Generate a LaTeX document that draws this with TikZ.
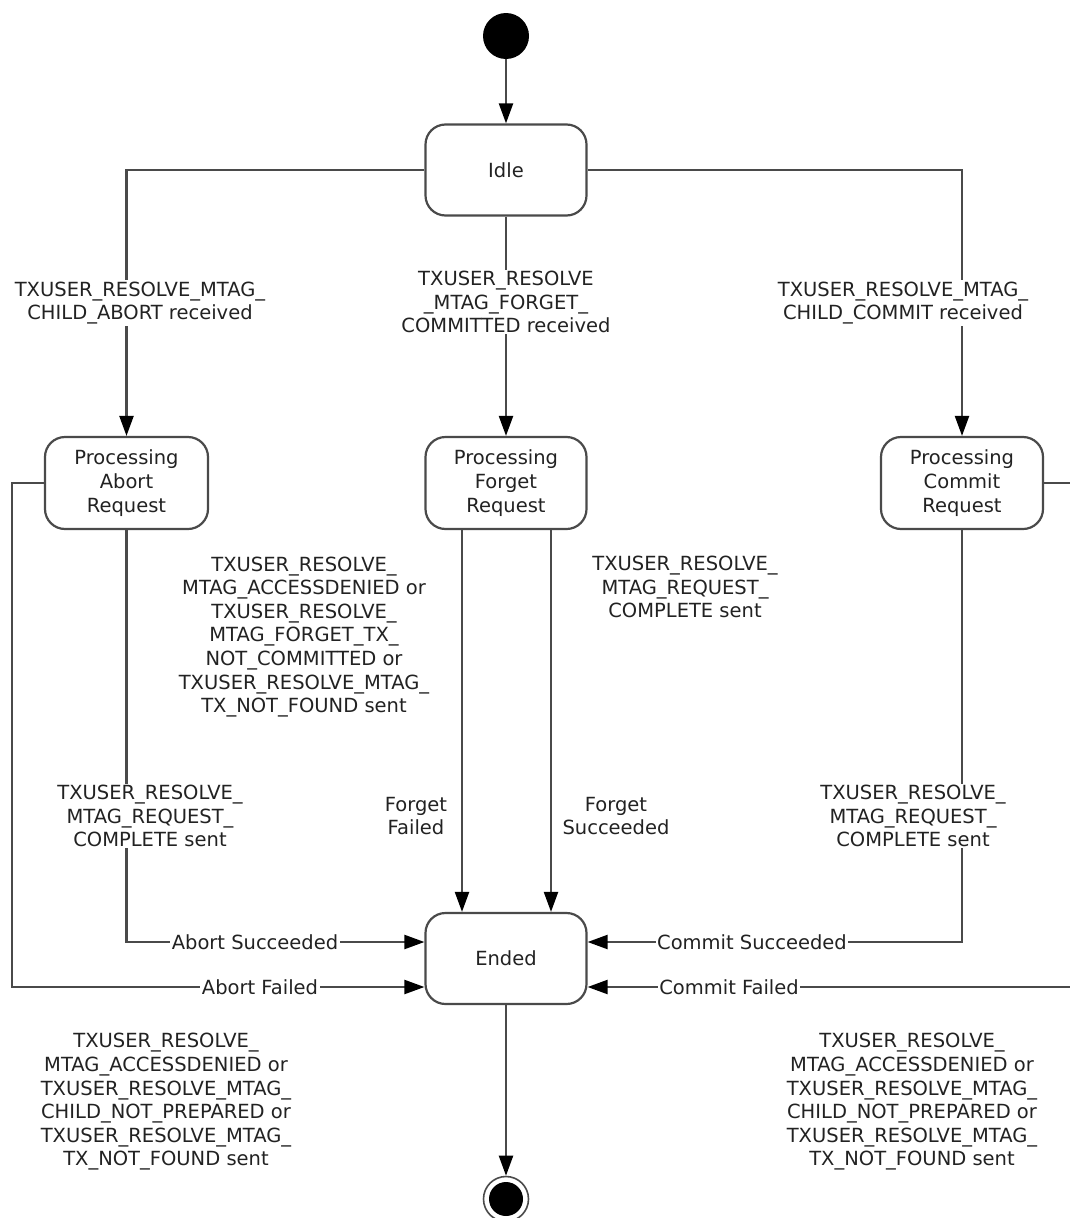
\documentclass[tikz,border=0pt]{standalone}
\usepackage{fontspec}
\setmainfont{DejaVu Sans}
\usetikzlibrary{arrows.meta,calc}
\definecolor{ln}{HTML}{4A4A4A}
\definecolor{tx}{HTML}{222222}
\begin{document}
\begin{tikzpicture}[x=1pt,y=-1pt,
  state/.style={draw=ln, line width=2.2pt, rounded corners=20pt, fill=white, text=tx, align=center,
    minimum width=161pt, minimum height=91pt, inner sep=0pt, font=\fontsize{19.5}{24}\selectfont},
  lbl/.style={fill=white, text=tx, align=center, inner sep=1.5pt, font=\fontsize{19.5}{23.6}\selectfont},
  tr/.style={draw=ln, line width=2.2pt, -{Triangle[length=20pt,width=14pt,color=black]}}
]
\useasboundingbox[fill=white] (0,0) rectangle (1070,1218);

% nodes
\node[circle, fill=black, minimum size=46pt, inner sep=0pt] (init) at (506,36) {};
\node[state] (idle) at (506,170) {Idle};
\node[state, minimum width=163pt, minimum height=92pt] (abort) at (126.5,483) {Processing\\Abort\\Request};
\node[state, minimum height=92pt] (forget) at (506,483) {Processing\\Forget\\Request};
\node[state, minimum width=162pt, minimum height=92pt] (commit) at (962,483) {Processing\\Commit\\Request};
\node[state] (ended) at (506,958.5) {Ended};
\node[circle, draw=ln, line width=1.6pt, fill=white, minimum size=45pt, inner sep=0pt] (final) at (506,1199) {};
\node[circle, fill=black, minimum size=34pt, inner sep=0pt] (finalin) at (final.center) {};

\coordinate (ySucc) at (0,942);
\coordinate (yFail) at (0,987);
\coordinate (xAbL) at (12,0);
\coordinate (xCmR) at (1090,0);

% connectors
\draw[tr] (init) -- (idle);
\draw[tr] (idle.west) -| (abort.north);
\draw[tr] (idle.south) -- (forget.north);
\draw[tr] (idle.east) -| (commit.north);
\draw[tr] (abort.south) |- (ended.west |- ySucc);
\draw[tr] (abort.west) -| (xAbL |- yFail) -- (ended.west |- yFail);
\draw[tr] ([xshift=-44pt]forget.south) -- ([xshift=-44pt]ended.north);
\draw[tr] ([xshift=45pt]forget.south) -- ([xshift=45pt]ended.north);
\draw[tr] (commit.south) |- (ended.east |- ySucc);
\draw[tr] (commit.east) -| (xCmR |- yFail) -- (ended.east |- yFail);
\draw[tr] (ended) -- (final);

% labels
\node[lbl] (l1) at (140,303) {TXUSER\_RESOLVE\_MTAG\_\\CHILD\_ABORT received};
\node[lbl] (l2) at (506,302) {TXUSER\_RESOLVE\\\_MTAG\_FORGET\_\\COMMITTED received};
\node[lbl] (l3) at (903,303) {TXUSER\_RESOLVE\_MTAG\_\\CHILD\_COMMIT received};
\node[lbl] (l4) at (304,637) {TXUSER\_RESOLVE\_\\MTAG\_ACCESSDENIED or\\TXUSER\_RESOLVE\_\\MTAG\_FORGET\_TX\_\\NOT\_COMMITTED or\\TXUSER\_RESOLVE\_MTAG\_\\TX\_NOT\_FOUND sent};
\node[lbl] (l5) at (685,587) {TXUSER\_RESOLVE\_\\MTAG\_REQUEST\_\\COMPLETE sent};
\node[lbl] (l6) at (150,816) {TXUSER\_RESOLVE\_\\MTAG\_REQUEST\_\\COMPLETE sent};
\node[lbl] (l7) at (913,816) {TXUSER\_RESOLVE\_\\MTAG\_REQUEST\_\\COMPLETE sent};
\node[lbl] (l8) at (416,816) {Forget\\Failed};
\node[lbl] (l9) at (616,816) {Forget\\Succeeded};
\node[lbl] (l10) at (255,942) {Abort Succeeded};
\node[lbl] (l11) at (260,987) {Abort Failed};
\node[lbl] (l12) at (752,942) {Commit Succeeded};
\node[lbl] (l13) at (729,987) {Commit Failed};
\node[lbl] (l14) at (166,1102) {TXUSER\_RESOLVE\_\\MTAG\_ACCESSDENIED or\\TXUSER\_RESOLVE\_MTAG\_\\CHILD\_NOT\_PREPARED or\\TXUSER\_RESOLVE\_MTAG\_\\TX\_NOT\_FOUND sent};
\node[lbl] (l15) at (912,1102) {TXUSER\_RESOLVE\_\\MTAG\_ACCESSDENIED or\\TXUSER\_RESOLVE\_MTAG\_\\CHILD\_NOT\_PREPARED or\\TXUSER\_RESOLVE\_MTAG\_\\TX\_NOT\_FOUND sent};
\end{tikzpicture}
\end{document}
